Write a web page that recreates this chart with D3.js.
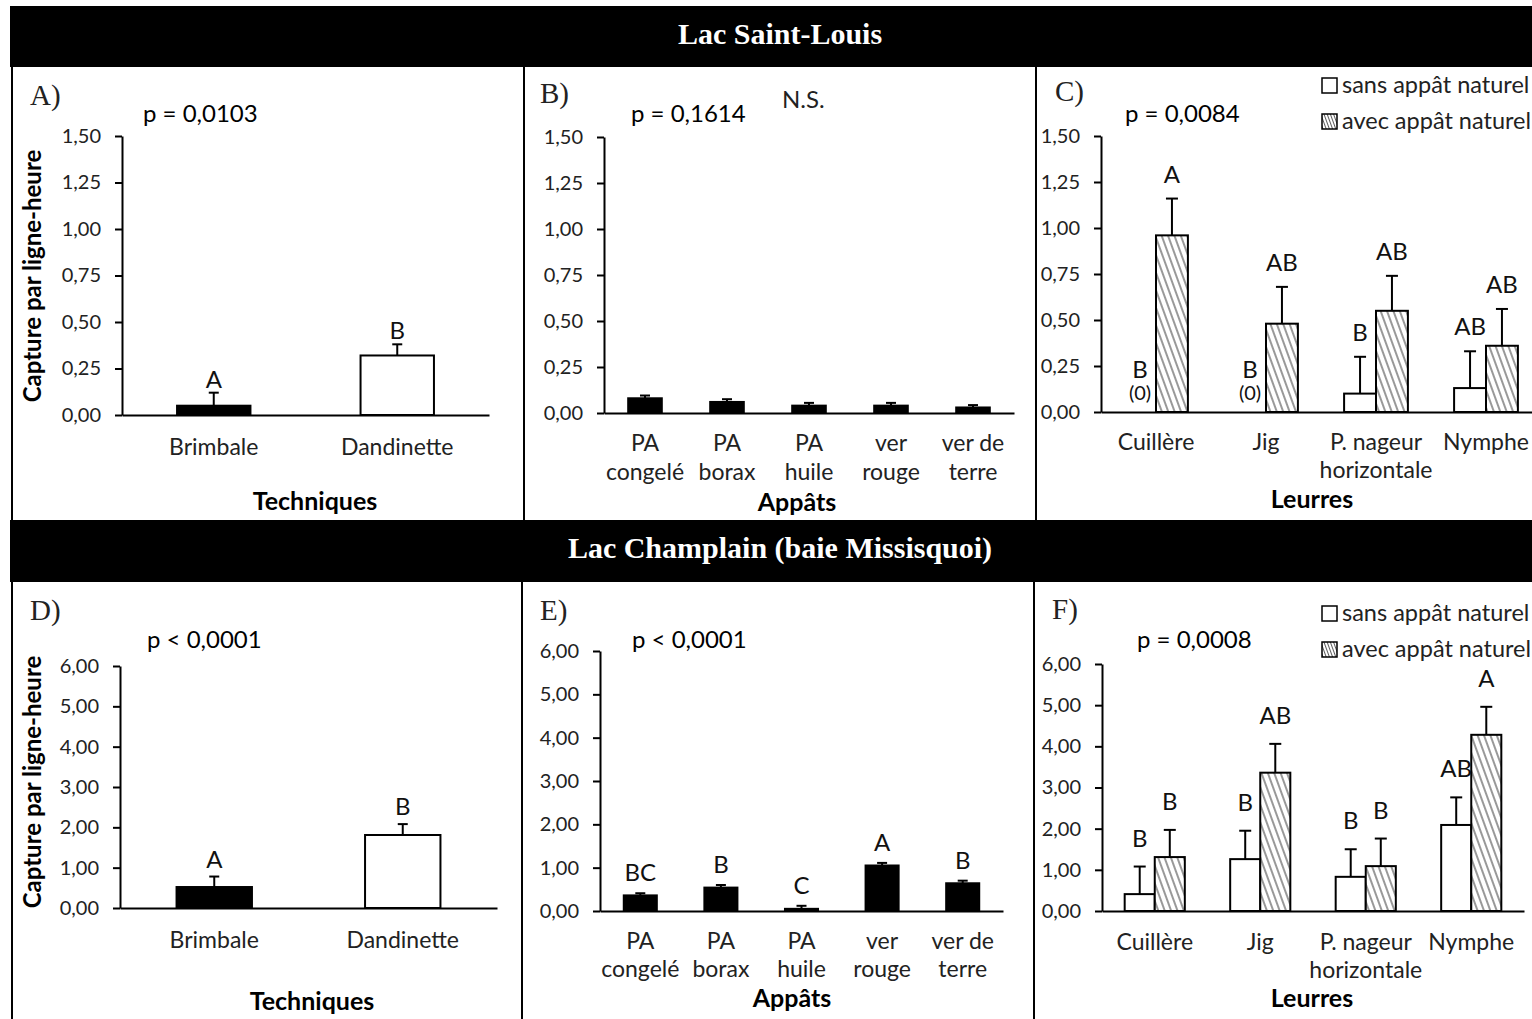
<!DOCTYPE html>
<html>
<head>
<meta charset="utf-8">
<script src="https://cdn.jsdelivr.net/npm/d3@7"></script>
<style>
  body { margin: 0; background: #fff; }
  svg text { font-family: Lato, "Open Sans", sans-serif; }
</style>
</head>
<body>
<div id="chart"></div>
<script>
// ---- data ----
const techniques = ['Brimbale', 'Dandinette'];
const baits = [['PA', 'congelé'], ['PA', 'borax'], ['PA', 'huile'], ['ver', 'rouge'], ['ver de', 'terre']];
const lures = [['Cuillère'], ['Jig'], ['P. nageur', 'horizontale'], ['Nymphe']];
const groups = ['sans', 'avec'];
const legendLabels = ['sans appât naturel', 'avec appât naturel'];
const ticksStLouis = [0, 0.25, 0.5, 0.75, 1, 1.25, 1.5];
const ticksChamplain = [0, 1, 2, 3, 4, 5, 6];
const headers = ['Lac Saint-Louis', 'Lac Champlain (baie Missisquoi)'];
const axisTitles = ['Techniques', 'Appâts', 'Leurres'];
const pValues = ['p = 0,0103', 'p = 0,1614', 'p = 0,0084', 'p < 0,0001', 'p < 0,0001', 'p = 0,0008'];

// Lac Saint-Louis
const slTechMean = [0.05, 0.32];
const slTechSE = [0.07, 0.06];
const slTechLetters = ['A', 'B'];
const slBaitMean = [0.08, 0.06, 0.04, 0.04, 0.03];
const slBaitSE = [0.015, 0.015, 0.015, 0.015, 0.013];
const slLureSans = [0, 0, 0.10, 0.13];
const slLureSansSE = [0, 0, 0.20, 0.20];
const slLureSansLetters = ['B', 'B', 'B', 'AB'];
const slLureAvec = [0.96, 0.48, 0.55, 0.36];
const slLureAvecSE = [0.20, 0.20, 0.19, 0.20];
const slLureAvecLetters = ['A', 'AB', 'AB', 'AB'];

// Lac Champlain
const chTechMean = [0.52, 1.81];
const chTechSE = [0.26, 0.27];
const chTechLetters = ['A', 'B'];
const chBaitMean = [0.36, 0.54, 0.05, 1.05, 0.64];
const chBaitSE = [0.05, 0.06, 0.07, 0.06, 0.06];
const chBaitLetters = ['BC', 'B', 'C', 'A', 'B'];
const chLureSans = [0.41, 1.26, 0.83, 2.09];
const chLureSansSE = [0.67, 0.69, 0.67, 0.67];
const chLureSansLetters = ['B', 'B', 'B', 'AB'];
const chLureAvec = [1.31, 3.36, 1.09, 4.28];
const chLureAvecSE = [0.66, 0.70, 0.67, 0.68];
const chLureAvecLetters = ['B', 'AB', 'B', 'A'];

// ---- drawing ----
const fmt = d => d.toFixed(2).replace('.', ',');
const svg = d3.select('#chart').append('svg').attr('width', 1532).attr('height', 1019);

const defs = svg.append('defs');
function hatch(id, step, w) {
  const p = defs.append('pattern').attr('id', id).attr('patternUnits', 'userSpaceOnUse')
    .attr('width', step).attr('height', step).attr('patternTransform', 'rotate(-20)');
  p.append('rect').attr('width', step).attr('height', step).attr('fill', '#fff');
  p.append('line').attr('x1', step / 2).attr('x2', step / 2).attr('y1', 0).attr('y2', step)
    .attr('stroke', '#333').attr('stroke-width', w);
}
hatch('hatch', 6, 1);
hatch('hatchSmall', 3, 0.8);

// header bands and panel dividers
[[6, 61], [520, 62]].forEach(([y, h], i) => {
  svg.append('rect').attr('x', 10).attr('y', y).attr('width', 1522).attr('height', h).attr('fill', '#000');
  svg.append('text').attr('x', 780).attr('y', y + 38).attr('text-anchor', 'middle')
    .style('font-family', '"Liberation Serif", serif').style('font-weight', 'bold')
    .style('font-size', '30px').attr('fill', '#fff').text(headers[i]);
});
[[12, 67, 520], [524, 67, 520], [1036, 67, 520], [12, 582, 1019], [522, 582, 1019], [1034, 582, 1019]]
  .forEach(([x, a, b]) => svg.append('line').attr('x1', x).attr('x2', x).attr('y1', a).attr('y2', b)
    .attr('stroke', '#000').attr('stroke-width', 2));

// panel layouts
const layout = {
  A: { x0: 122, x1: 489, y0: 415, y1: 136, pad: 0.6, tag: [30, 105], p: [143, 122], title: [315, 510], cat: [455] },
  B: { x0: 604, x1: 1014, y0: 413, y1: 137, pad: 0.59, tag: [540, 103], p: [631, 122], title: [797, 511], cat: [451, 480] },
  C: { x0: 1101, x1: 1541, y0: 412, y1: 136, pad: 0.42, tag: [1055, 101], p: [1125, 122], title: [1312, 508], cat: [450, 478] },
  D: { x0: 120, x1: 497, y0: 908, y1: 666, pad: 0.6, tag: [30, 620], p: [147, 648], title: [312, 1010], cat: [948] },
  E: { x0: 600, x1: 1003, y0: 911, y1: 651, pad: 0.59, tag: [540, 620], p: [632, 648], title: [792, 1007], cat: [949, 977] },
  F: { x0: 1102, x1: 1524, y0: 911, y1: 664, pad: 0.43, tag: [1052, 619], p: [1137, 648], title: [1312, 1007], cat: [950, 978] }
};

function frame(key, yMax, ticks, pText, title) {
  const c = layout[key];
  const g = svg.append('g');
  const y = d3.scaleLinear().domain([0, yMax]).range([c.y0, c.y1]);
  g.append('text').attr('x', c.tag[0]).attr('y', c.tag[1])
    .style('font-family', '"Liberation Serif", serif').style('font-size', '29px').attr('fill', '#222')
    .text(key + ')');
  g.append('text').attr('x', c.p[0]).attr('y', c.p[1]).style('font-size', '24px').attr('fill', '#000').text(pText);
  g.append('text').attr('x', c.title[0]).attr('y', c.title[1]).attr('text-anchor', 'middle')
    .style('font-size', '25px').style('font-weight', 'bold').attr('fill', '#000').text(title);
  return { g, y, c };
}

function axes(g, c, x, y, ticks) {
  const ya = g.append('g').attr('transform', `translate(${c.x0},0)`)
    .call(d3.axisLeft(y).tickValues(ticks).tickFormat(fmt).tickSize(7).tickSizeOuter(0).tickPadding(14));
  const xa = g.append('g').attr('transform', `translate(0,${c.y0})`)
    .call(d3.axisBottom(x).tickSize(0).tickSizeOuter(0).tickFormat(''));
  [ya, xa].forEach(a => {
    a.select('.domain').attr('stroke', '#000').attr('stroke-width', 2);
    a.selectAll('.tick line').attr('stroke', '#000').attr('stroke-width', 2);
  });
  ya.selectAll('.tick text').style('font-family', 'Lato, sans-serif').style('font-size', '20px').attr('fill', '#222');
}

function categoryLabels(g, c, x, cats) {
  cats.forEach((lines, i) => {
    const t = g.append('text').attr('text-anchor', 'middle').style('font-size', '23px').attr('fill', '#222');
    lines.forEach((s, j) => t.append('tspan').attr('x', x(i) + x.bandwidth() / 2).attr('y', c.cat[j]).text(s));
  });
}

function errorBars(g, xs, y, mean, se, w) {
  mean.forEach((m, i) => {
    if (m === 0) return;
    const cx = xs(i);
    g.append('line').attr('x1', cx).attr('x2', cx).attr('y1', y(m)).attr('y2', y(m + se[i]))
      .attr('stroke', '#000').attr('stroke-width', 2);
    g.append('line').attr('x1', cx - w).attr('x2', cx + w).attr('y1', y(m + se[i])).attr('y2', y(m + se[i]))
      .attr('stroke', '#000').attr('stroke-width', 2);
  });
}

function letterMarks(g, xs, y, mean, se, letters, gap) {
  if (!letters) return;
  letters.forEach((l, i) => {
    g.append('text').attr('x', xs(i)).attr('y', y(mean[i] + se[i]) - gap).attr('text-anchor', 'middle')
      .style('font-size', '24px').attr('fill', '#111').text(l);
  });
}

function simplePanel(key, yMax, ticks, pText, title, cats, mean, se, letters, fills, gap) {
  const { g, y, c } = frame(key, yMax, ticks, pText, title);
  const x = d3.scaleBand().domain(d3.range(cats.length)).range([c.x0, c.x1])
    .paddingInner(c.pad).paddingOuter(c.pad / 2);
  g.selectAll('rect.bar').data(mean).join('rect').attr('class', 'bar')
    .attr('x', (d, i) => x(i)).attr('y', d => y(d))
    .attr('width', x.bandwidth()).attr('height', d => y(0) - y(d))
    .attr('fill', (d, i) => fills[i]).attr('stroke', '#000').attr('stroke-width', 2);
  const cx = i => x(i) + x.bandwidth() / 2;
  errorBars(g, cx, y, mean, se, 5);
  letterMarks(g, cx, y, mean, se, letters, gap);
  axes(g, c, x, y, ticks);
  categoryLabels(g, c, x, cats);
  return g;
}

function groupedPanel(key, yMax, ticks, pText, cats, sans, sansSE, sansL, avec, avecSE, avecL, gap) {
  const { g, y, c } = frame(key, yMax, ticks, pText, axisTitles[2]);
  const x = d3.scaleBand().domain(d3.range(cats.length)).range([c.x0, c.x1])
    .paddingInner(c.pad).paddingOuter(c.pad / 2);
  const xi = d3.scaleBand().domain(groups).range([0, x.bandwidth()]);
  const series = [[sans, sansSE, sansL, '#fff'], [avec, avecSE, avecL, 'url(#hatch)']];
  series.forEach(([mean, se, letters, fill], k) => {
    const gr = groups[k];
    g.selectAll(null).data(mean).join('rect')
      .attr('x', (d, i) => x(i) + xi(gr)).attr('y', d => y(d))
      .attr('width', xi.bandwidth()).attr('height', d => y(0) - y(d))
      .attr('fill', fill).attr('stroke', '#000').attr('stroke-width', 2)
      .style('display', d => d === 0 ? 'none' : null);
    const cx = i => x(i) + xi(gr) + xi.bandwidth() / 2;
    errorBars(g, cx, y, mean, se, 6);
    letterMarks(g, cx, y, mean.map(v => v === 0 ? NaN : v), se, letters.map((l, i) => mean[i] === 0 ? '' : l), gap);
    mean.forEach((m, i) => {
      if (m !== 0) return;
      g.append('text').attr('x', cx(i)).attr('y', y(0) - 34).attr('text-anchor', 'middle')
        .style('font-size', '24px').attr('fill', '#111').text(letters[i]);
      g.append('text').attr('x', cx(i)).attr('y', y(0) - 12).attr('text-anchor', 'middle')
        .style('font-size', '20px').attr('fill', '#111').text('(0)');
    });
  });
  axes(g, c, x, y, ticks);
  categoryLabels(g, c, x, cats);
  // legend
  const lg = g.append('g').attr('transform', `translate(1322,${c.y1 - 58})`);
  legendLabels.forEach((s, k) => {
    lg.append('rect').attr('x', 0).attr('y', k * 36).attr('width', 15).attr('height', 15)
      .attr('fill', k ? 'url(#hatchSmall)' : '#fff').attr('stroke', '#000').attr('stroke-width', 1.5);
    lg.append('text').attr('x', 20).attr('y', k * 36 + 15).style('font-size', '23.5px').attr('fill', '#222').text(s);
  });
  return g;
}

// y-axis titles
[[276, 41], [782, 41]].forEach(([cy, bx]) => {
  svg.append('text').attr('transform', `translate(${bx},${cy}) rotate(-90)`).attr('text-anchor', 'middle')
    .style('font-size', '24px').style('font-weight', 'bold').attr('fill', '#000')
    .text('Capture par ligne-heure');
});

simplePanel('A', 1.5, ticksStLouis, pValues[0], axisTitles[0], techniques.map(d => [d]),
  slTechMean, slTechSE, slTechLetters, ['#000', '#fff'], 5);
const gB = simplePanel('B', 1.5, ticksStLouis, pValues[1], axisTitles[1], baits,
  slBaitMean, slBaitSE, null, baits.map(() => '#000'), 0);
gB.append('text').attr('x', 782).attr('y', 108).style('font-size', '24px').attr('fill', '#222').text('N.S.');
groupedPanel('C', 1.5, ticksStLouis, pValues[2], lures,
  slLureSans, slLureSansSE, slLureSansLetters, slLureAvec, slLureAvecSE, slLureAvecLetters, 16);

simplePanel('D', 6, ticksChamplain, pValues[3], axisTitles[0], techniques.map(d => [d]),
  chTechMean, chTechSE, chTechLetters, ['#000', '#fff'], 9);
simplePanel('E', 6, ticksChamplain, pValues[4], axisTitles[1], baits,
  chBaitMean, chBaitSE, chBaitLetters, baits.map(() => '#000'), 12);
groupedPanel('F', 6, ticksChamplain, pValues[5], lures,
  chLureSans, chLureSansSE, chLureSansLetters, chLureAvec, chLureAvecSE, chLureAvecLetters, 20);
</script>
</body>
</html>
